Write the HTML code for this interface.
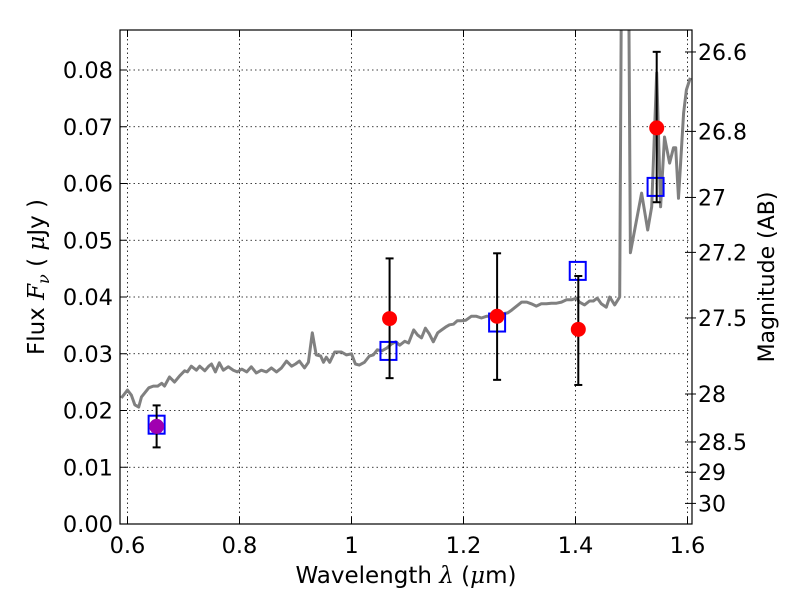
<!DOCTYPE html>
<html><head><meta charset="utf-8"><style>
html,body{margin:0;padding:0;background:#fff;}
svg{display:block;font-family:"DejaVu Sans","Liberation Sans",sans-serif;}
</style></head><body>
<svg id="chart" width="800" height="600" viewBox="0 0 800 600">
<g id="grid"></g>
<g id="spec"></g>
<g id="marks"></g>
<rect x="120" y="30" width="572" height="494" fill="none" stroke="#000" stroke-width="1.2"/>
<g id="axes"></g>
<text x="406" y="583" font-size="23" text-anchor="middle">Wavelength  <tspan font-style="italic" font-family="DejaVu Serif,serif">λ</tspan> (<tspan font-style="italic" font-family="DejaVu Serif,serif">μ</tspan>m)</text>
<text transform="translate(44,277) rotate(-90)" font-size="23" text-anchor="middle">Flux  <tspan font-style="italic" font-family="DejaVu Serif,serif">F</tspan><tspan font-style="italic" font-family="DejaVu Serif,serif" font-size="16" dy="5">ν</tspan><tspan dy="-5">  (  </tspan><tspan font-style="italic" font-family="DejaVu Serif,serif">μ</tspan>Jy )</text>
<text transform="translate(774,277) rotate(-90)" font-size="22" text-anchor="middle">Magnitude (AB)</text>
</svg>
<script>
const xTicks=[0.6,0.8,1.0,1.2,1.4,1.6];
const xTickLabels=["0.6","0.8","1","1.2","1.4","1.6"];
const yTicks=[0,0.01,0.02,0.03,0.04,0.05,0.06,0.07,0.08];
const yTickLabels=["0.00","0.01","0.02","0.03","0.04","0.05","0.06","0.07","0.08"];
const magTicks=[26.6,26.8,27,27.2,27.5,28,28.5,29,30];
const magTickLabels=["26.6","26.8","27","27.2","27.5","28","28.5","29","30"];
const specWl=[0.589,0.600,0.607,0.613,0.620,0.625,0.638,0.646,0.654,0.661,0.666,0.675,0.684,0.693,0.702,0.707,0.714,0.723,0.729,0.738,0.745,0.750,0.757,0.764,0.771,0.780,0.789,0.796,0.804,0.813,0.821,0.830,0.839,0.848,0.857,0.866,0.875,0.884,0.893,0.900,0.907,0.916,0.923,0.930,0.937,0.945,0.950,0.955,0.961,0.970,0.982,0.991,1.000,1.007,1.014,1.023,1.032,1.039,1.046,1.054,1.063,1.071,1.079,1.086,1.095,1.102,1.111,1.118,1.125,1.132,1.139,1.146,1.154,1.161,1.168,1.175,1.182,1.189,1.196,1.204,1.214,1.223,1.232,1.241,1.250,1.259,1.268,1.279,1.286,1.295,1.304,1.313,1.321,1.330,1.339,1.348,1.357,1.366,1.375,1.384,1.393,1.402,1.407,1.416,1.425,1.432,1.439,1.446,1.455,1.461,1.470,1.479,1.482,1.495,1.498,1.518,1.529,1.536,1.545,1.552,1.559,1.568,1.575,1.579,1.584,1.593,1.598,1.605];
const specFlux=[0.0222,0.0236,0.0227,0.0210,0.0206,0.0224,0.0240,0.0243,0.0243,0.0248,0.0243,0.0259,0.0250,0.0261,0.0270,0.0268,0.0278,0.0271,0.0278,0.0270,0.0278,0.0282,0.0268,0.0284,0.0271,0.0277,0.0271,0.0268,0.0273,0.0268,0.0277,0.0266,0.0271,0.0268,0.0275,0.0268,0.0275,0.0287,0.0278,0.0282,0.0287,0.0275,0.0285,0.0337,0.0298,0.0296,0.0285,0.0294,0.0285,0.0303,0.0303,0.0298,0.0300,0.0282,0.0280,0.0285,0.0296,0.0298,0.0307,0.0305,0.0310,0.0317,0.0321,0.0315,0.0322,0.0319,0.0342,0.0333,0.0328,0.0345,0.0335,0.0321,0.0337,0.0342,0.0347,0.0351,0.0352,0.0358,0.0358,0.0359,0.0366,0.0366,0.0363,0.0366,0.0366,0.0370,0.0370,0.0372,0.0377,0.0384,0.0391,0.0391,0.0388,0.0384,0.0388,0.0388,0.0389,0.0389,0.0391,0.0395,0.0395,0.0398,0.0391,0.0386,0.0393,0.0393,0.0398,0.0388,0.0382,0.0400,0.0386,0.0400,0.0950,0.0950,0.0478,0.0583,0.0518,0.0559,0.0795,0.0559,0.0682,0.0636,0.0663,0.0663,0.0574,0.0724,0.0765,0.0786];
const obsWl=[0.652,1.068,1.260,1.405,1.545];
const obsFlux=[0.0172,0.0362,0.0366,0.0343,0.0698];
const obsLo=[0.0135,0.0257,0.0254,0.0245,0.0567];
const obsHi=[0.0209,0.0468,0.0477,0.0437,0.0832];
const modelWl=[0.652,1.066,1.260,1.404,1.543];
const modelFlux=[0.0175,0.0305,0.0355,0.0446,0.0594];

const NS="http://www.w3.org/2000/svg";
const L=120,R=692,T=30,B=524;
const X=w=>127.5+(w-0.6)*560;
const Y=f=>B-f*5675;
const magToFlux=m=>Math.pow(10,(23.9-m)/2.5);
function mk(tag,attrs,parent,txt){const e=document.createElementNS(NS,tag);for(const k in attrs)e.setAttribute(k,attrs[k]);if(txt!==undefined)e.textContent=txt;parent.appendChild(e);return e;}
const grid=document.getElementById('grid'),axes=document.getElementById('axes'),spec=document.getElementById('spec'),marks=document.getElementById('marks');

xTicks.forEach((v,i)=>{const x=X(v);
 const g=mk('line',{x1:x,x2:x,y1:T,y2:B,stroke:'#000','stroke-width':0.8,'stroke-dasharray':'1.5,3'},grid);
 
 
 mk('line',{x1:x,x2:x,y1:B,y2:B-7,stroke:'#000','stroke-width':1},axes);
 mk('line',{x1:x,x2:x,y1:T,y2:T+7,stroke:'#000','stroke-width':1},axes);
 const t=mk('text',{x:x,y:B+29,'font-size':22.5,'text-anchor':'middle'},axes,xTickLabels[i]);
 
 
});
yTicks.forEach((v,i)=>{const y=Y(v);
 const g=mk('line',{x1:L,x2:R,y1:y,y2:y,stroke:'#000','stroke-width':0.8,'stroke-dasharray':'1.5,3'},grid);
 
 
 mk('line',{x1:L,x2:L+7,y1:y,y2:y,stroke:'#000','stroke-width':1},axes);
 const t=mk('text',{x:L-7,y:y+8,'font-size':22.5,'text-anchor':'end'},axes,yTickLabels[i]);
 
 
});
magTicks.forEach((m,i)=>{const y=Y(magToFlux(m));
 mk('line',{x1:R,x2:R-7,y1:y,y2:y,stroke:'#000','stroke-width':1},axes);
 mk('line',{x1:R,x2:R+4,y1:y,y2:y,stroke:'#000','stroke-width':1},axes);
 const t=mk('text',{x:R+6,y:y+8,'font-size':22,'text-anchor':'start'},axes,magTickLabels[i]);
 
 
});

mk('clipPath',{id:'clip'},document.getElementById('chart'));
mk('rect',{x:L,y:T,width:R-L,height:B-T},document.getElementById('clip'));
spec.setAttribute('clip-path','url(#clip)');
const p=mk('polyline',{points:specWl.map((w,i)=>X(w).toFixed(1)+','+Y(specFlux[i]).toFixed(1)).join(' '),fill:'none',stroke:'#808080','stroke-width':3,'stroke-linejoin':'round'},spec);



modelWl.forEach((w,i)=>{const x=X(w),y=Y(modelFlux[i]);
 const r=mk('rect',{x:x-8,y:y-9,width:16,height:18,fill:'none',stroke:'#0000ff','stroke-width':2},marks);
 
 
});
obsWl.forEach((w,i)=>{const x=X(w);
 const g=mk('g',{},marks);
 
 
 mk('line',{x1:x,x2:x,y1:Y(obsLo[i]),y2:Y(obsHi[i]),stroke:'#000','stroke-width':2},g);
 mk('line',{x1:x-4,x2:x+4,y1:Y(obsLo[i]),y2:Y(obsLo[i]),stroke:'#000','stroke-width':2},g);
 mk('line',{x1:x-4,x2:x+4,y1:Y(obsHi[i]),y2:Y(obsHi[i]),stroke:'#000','stroke-width':2},g);
 const c=mk('circle',{cx:x,cy:Y(obsFlux[i]),r:7.5,fill:i===0?'#a000b0':'#ff0000'},marks);
 
 
});
</script>
</body></html>
